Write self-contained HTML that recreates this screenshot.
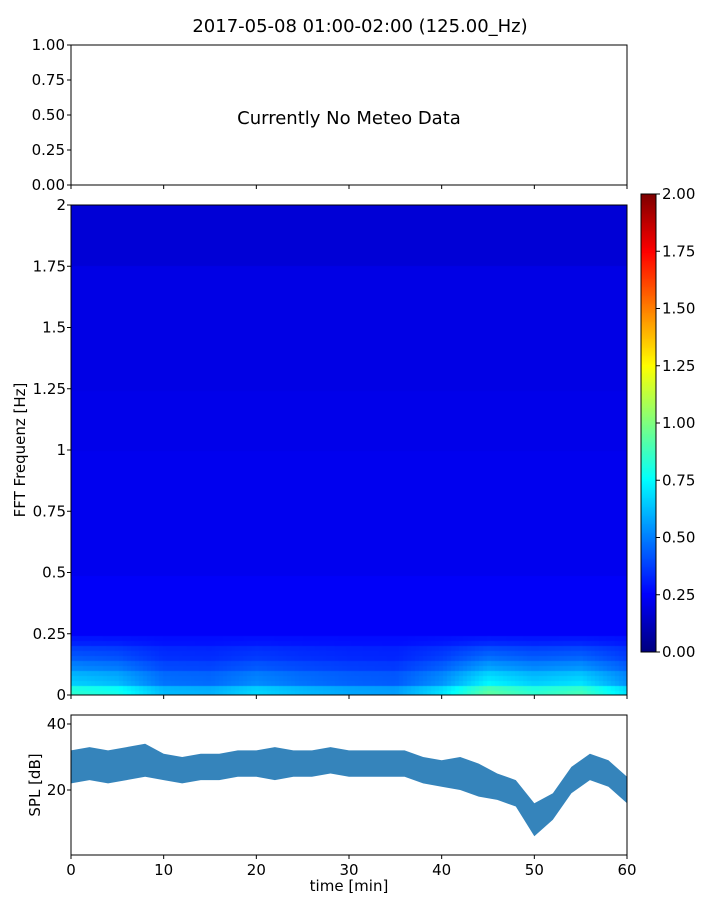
<!DOCTYPE html>
<html><head><meta charset="utf-8"><style>
body{margin:0;background:#fff;font-family:"Liberation Sans","DejaVu Sans",sans-serif}
#wrap{position:relative;width:720px;height:900px}
canvas{position:absolute}
svg{position:absolute;left:0;top:0}
text{font-family:"DejaVu Sans","Liberation Sans",sans-serif;font-size:15px;fill:#000}
</style></head><body>
<div id="wrap">
<canvas id="spec" width="556" height="490" style="left:71px;top:205px"></canvas>
<canvas id="cbar" width="15" height="458" style="left:641px;top:194px"></canvas>
<svg id="svg" width="720" height="900"></svg>
</div>
<script>
// ---- data ----
const specFreqBands = [0,0.05,0.1,0.15,0.2,0.25,0.5,0.75,1,1.25,1.5,1.75,2];
const specBandBase = [0.5,0.38,0.33,0.3,0.27,0.24,0.22,0.22,0.21,0.2,0.2,0.17];
const specTimes = [0,5,10,15,20,25,30,35,40,45,50,55,60];
const specLowBoost = [0.35,0.3,0.12,0.1,0.18,0.12,0.08,0.06,0.2,0.45,0.35,0.4,0.2];
const splTimes = [0,2,4,6,8,10,12,14,16,18,20,22,24,26,28,30,32,34,36,38,40,42,44,46,48,50,52,54,56,58,60];
const splCenter = [27,28,27,28,29,27,26,27,27,28,28,28,28,28,29,28,28,28,28,26,25,25,23,21,19,11,15,23,27,25,20];
const splSpread = [5,5,5,5,5,4,4,4,4,4,4,5,4,4,4,4,4,4,4,4,4,5,5,4,4,5,4,4,4,4,4];
const cbTicks = [0,0.25,0.5,0.75,1,1.25,1.5,1.75,2];
const fTicks = [0,0.25,0.5,0.75,1,1.25,1.5,1.75,2];
const fTickLabels = ["0","0.25","0.5","0.75","1","1.25","1.5","1.75","2"];
const meteoTicks = [0,0.25,0.5,0.75,1];
const timeTicks = [0,10,20,30,40,50,60];
const splTicks = [20,40];

function jet(v){v=Math.max(0,Math.min(1,v));
 const r=Math.max(0,Math.min(1,1.5-Math.abs(4*v-3))),g=Math.max(0,Math.min(1,1.5-Math.abs(4*v-2))),b=Math.max(0,Math.min(1,1.5-Math.abs(4*v-1)));
 return `rgb(${r*255|0},${g*255|0},${b*255|0})`;}
function interp(xs,ys,x){for(let i=0;i<xs.length-1;i++){if(x<=xs[i+1]){const t=(x-xs[i])/(xs[i+1]-xs[i]);return ys[i]+t*(ys[i+1]-ys[i]);}}return ys[ys.length-1];}
const X0=71,X1=627;
const xt=t=>X0+(X1-X0)*t/60;
const yf=f=>695-490*f/2;
const ys=d=>855-(d-0.3)*3.3;
const ym=v=>185-140*v;
const yc=v=>652-458*v/2;

const sc=document.getElementById('spec').getContext('2d');
const nR=98,nC=139;
for(let r=0;r<nR;r++){const f=(r+0.5)*2/nR;
 let band=0;for(let i=0;i<specFreqBands.length-1;i++)if(f>=specFreqBands[i])band=i;
 for(let c=0;c<nC;c++){const t=(c+0.5)*60/nC;
  let v=specBandBase[band];
  if(f<0.25){v+=interp(specTimes,specLowBoost,t)*(1-f/0.25);}
  sc.fillStyle=jet(v/2);
  sc.fillRect(c*556/nC,490-(r+1)*490/nR,556/nC+1,490/nR+1);}}
const cc=document.getElementById('cbar').getContext('2d');
for(let y=0;y<458;y++){cc.fillStyle=jet(1-y/457);cc.fillRect(0,y,15,1);}

const svg=document.getElementById('svg');const NS='http://www.w3.org/2000/svg';
function el(tag,attrs,name,txt){const e=document.createElementNS(NS,tag);for(const k in attrs)e.setAttribute(k,attrs[k]);
 
 
 if(txt!==undefined)e.textContent=txt;svg.appendChild(e);return e;}
el('text',{x:360,y:32,'text-anchor':'middle',style:'font-size:18px'},'chart-title','2017-05-08 01:00-02:00 (125.00_Hz)');
el('rect',{x:X0,y:45,width:556,height:140,fill:'none',stroke:'#000','stroke-width':1},'meteo-axes-frame');
meteoTicks.forEach(v=>{el('line',{x1:X0-4,x2:X0,y1:ym(v),y2:ym(v),stroke:'#000'},'meteo-y-tick');
 el('text',{x:X0-6,y:ym(v)+5,'text-anchor':'end'},'meteo-y-tick-label',v.toFixed(2));});
timeTicks.forEach(t=>el('line',{x1:xt(t),x2:xt(t),y1:185,y2:189,stroke:'#000'},'meteo-x-tick'));
el('text',{x:349,y:124,'text-anchor':'middle',style:'font-size:18px'},'no-meteo-data-message','Currently No Meteo Data');
el('rect',{x:X0,y:205,width:556,height:490,fill:'none',stroke:'#000'},'spectrogram-frame');
fTicks.forEach((f,i)=>{el('line',{x1:X0-4,x2:X0,y1:yf(f),y2:yf(f),stroke:'#000'},'freq-tick');
 el('text',{x:X0-5,y:yf(f)+5,'text-anchor':'end'},'freq-tick-label',fTickLabels[i]);});
timeTicks.forEach(t=>el('line',{x1:xt(t),x2:xt(t),y1:695,y2:699,stroke:'#000'},'spec-x-tick'));
el('text',{x:25,y:450,'text-anchor':'middle',transform:'rotate(-90 25 450)'},'freq-axis-title','FFT Frequenz [Hz]');
el('rect',{x:641,y:194,width:15,height:458,fill:'none',stroke:'#000'},'colorbar-frame');
cbTicks.forEach(v=>{el('line',{x1:656,x2:660,y1:yc(v),y2:yc(v),stroke:'#000'},'colorbar-tick');
 el('text',{x:662,y:yc(v)+5},'colorbar-tick-label',v.toFixed(2));});
let up='',lo='';
splTimes.forEach((t,i)=>{up+=(i?'L':'M')+xt(t)+','+ys(splCenter[i]+splSpread[i]);});
for(let i=splTimes.length-1;i>=0;i--)lo+='L'+xt(splTimes[i])+','+ys(splCenter[i]-splSpread[i]);
el('path',{d:up+lo+'Z',fill:'#1f77b4',opacity:0.9},'spl-band');
el('rect',{x:X0,y:715,width:556,height:140,fill:'none',stroke:'#000'},'spl-axes-frame');
splTicks.forEach(v=>{el('line',{x1:X0-4,x2:X0,y1:ys(v),y2:ys(v),stroke:'#000'},'spl-y-tick');
 el('text',{x:X0-5,y:ys(v)+5,'text-anchor':'end'},'spl-y-tick-label',String(v));});
timeTicks.forEach(t=>{el('line',{x1:xt(t),x2:xt(t),y1:855,y2:859,stroke:'#000'},'time-tick');
 el('text',{x:xt(t),y:875,'text-anchor':'middle'},'time-tick-label',String(t));});
el('text',{x:349,y:891,'text-anchor':'middle'},'time-axis-title','time [min]');
el('text',{x:40,y:785,'text-anchor':'middle',transform:'rotate(-90 40 785)'},'spl-axis-title','SPL [dB]');
</script>
</body></html>
